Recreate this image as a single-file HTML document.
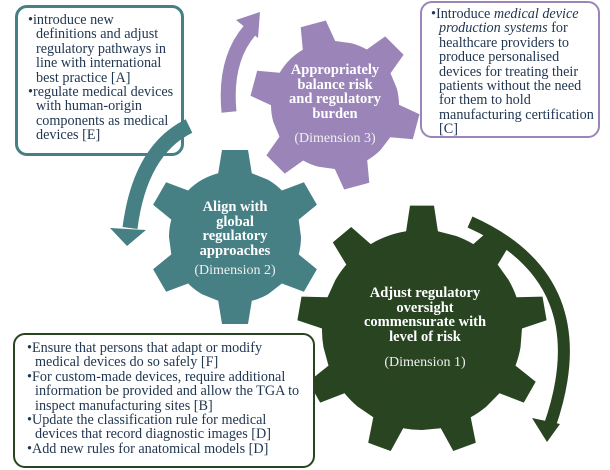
<!DOCTYPE html>
<html><head><meta charset="utf-8"><style>
html,body{margin:0;padding:0;background:#fff;width:610px;height:470px;overflow:hidden;position:relative;font-family:"Liberation Serif",serif}
svg{position:absolute;left:0;top:0}
.box{position:absolute;background:#fff;border-radius:12px;box-sizing:border-box;color:#1f3550;font-size:14.2px;line-height:14.4px;white-space:nowrap}
.box div{padding-left:8px;text-indent:-8px}
.lbl{position:absolute;color:#fff;text-align:center;font-weight:bold;font-size:14.5px;line-height:14.5px;white-space:nowrap}
.dim{position:absolute;color:#f0f0f0;text-align:center;font-size:14px;white-space:nowrap}
</style></head><body>
<svg width="610" height="470" id="s">
<g id="g"></g>
<path d="M229,112 Q224,60 250,30" fill="none" stroke="#9b85b8" stroke-width="15"/>
<polygon points="236,20 260,12 258,38" fill="#9b85b8"/>
<path d="M470,222 Q600,280 550,425" fill="none" stroke="#284421" stroke-width="12"/>
<polygon points="532,418 560,424 547,442" fill="#284421"/>
</svg>
<div class="box" style="left:15px;top:5px;width:169px;height:151px;border:3px solid #467f84;padding:5px 0 0 10px">
<div>•introduce new<br>definitions and adjust<br>regulatory pathways in<br>line with international<br>best practice [A]</div>
<div>•regulate medical devices<br>with human-origin<br>components as medical<br>devices [E]</div>
</div>
<svg width="610" height="470" style="pointer-events:none">
<path d="M189,126 Q140,150 130,228" fill="none" stroke="#467f84" stroke-width="15"/>
<polygon points="110,228 146,230 127,246" fill="#467f84"/>
</svg>
<div class="box" style="left:420px;top:1px;width:180px;height:137px;border:2px solid #9b85b8;padding:4px 0 0 9px">
<div>•Introduce <i>medical device<br>production systems</i> for<br>healthcare providers to<br>produce personalised<br>devices for treating their<br>patients without the need<br>for them to hold<br>manufacturing certification<br>[C]</div>
</div>
<div class="box" style="left:13px;top:333px;width:302px;height:135px;border:2px solid #284421;padding:6px 0 0 12px">
<div>•Ensure that persons that adapt or modify<br>medical devices do so safely [F]</div>
<div>•For custom-made devices, require additional<br>information be provided and allow the TGA to<br>inspect manufacturing sites [B]</div>
<div>•Update the classification rule for medical<br>devices that record diagnostic images [D]</div>
<div>•Add new rules for anatomical models [D]</div>
</div>
<div class="lbl" style="left:275px;top:63px;width:120px">Appropriately<br>balance risk<br>and regulatory<br>burden</div>
<div class="dim" style="left:275px;top:131px;width:120px">(Dimension 3)</div>
<div class="lbl" style="left:175px;top:200px;width:120px">Align with<br>global<br>regulatory<br>approaches</div>
<div class="dim" style="left:175px;top:263px;width:120px">(Dimension 2)</div>
<div class="lbl" style="left:345px;top:286px;width:160px">Adjust regulatory<br>oversight<br>commensurate with<br>level of risk</div>
<div class="dim" style="left:345px;top:355px;width:160px">(Dimension 1)</div>
<script>
function gear(cx,cy,R,r,n,off,w,col){
 var d="",step=2*Math.PI/n,ho=w/2/R,hb=(w/2+4)/r;
 for(var i=0;i<n;i++){
  var a=off*Math.PI/180+i*step;
  var pts=[[r,a-step/2],[r,a-hb],[R,a-ho],[R,a+ho],[r,a+hb]];
  pts.forEach(function(p,j){var x=cx+p[0]*Math.cos(p[1]),y=cy+p[0]*Math.sin(p[1]);
   d+=(i==0&&j==0?"M":(j==1?"A"+r+","+r+" 0 0 1 ":"L"))+x.toFixed(1)+","+y.toFixed(1)+" ";});
 }
 var a0=off*Math.PI/180-step/2;
 d+="A"+r+","+r+" 0 0 1 "+(cx+r*Math.cos(a0)).toFixed(1)+","+(cy+r*Math.sin(a0)).toFixed(1)+"Z";
 return '<path d="'+d+'" fill="'+col+'"/>';
}
document.getElementById("g").innerHTML=
 gear(335,105,85,64,6,-105,26,"#9b85b8")+
 gear(235,237,88,66,6,-90,26,"#467f84")+
 gear(422,330,125,100,9,-90,24,"#284421");
</script>
</body></html>
